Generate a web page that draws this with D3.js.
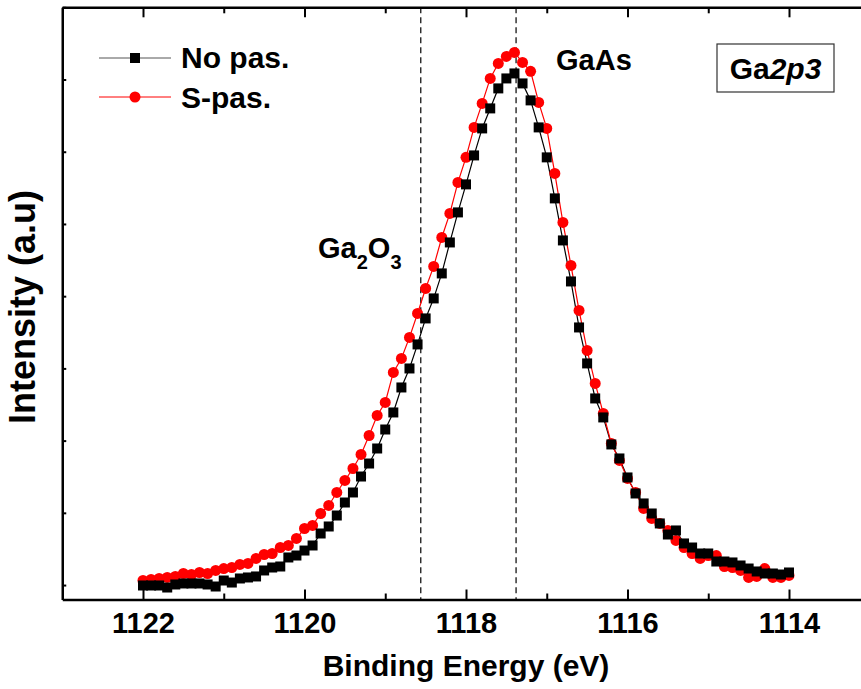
<!DOCTYPE html>
<html>
<head>
<meta charset="utf-8">
<script src="https://cdn.jsdelivr.net/npm/d3@7"></script>
<style>
  body { margin: 0; background: #fff; }
  svg { display: block; font-family: "Liberation Sans", Arial, sans-serif; }
  .axis path, .axis line { stroke: #000; }
</style>
</head>
<body>
<script>
// binding energies, 1122.0 -> 1114.0 eV in 0.1 eV steps
var energy = d3.range(0, 81).map(i => +(1122 - i * 0.1).toFixed(1));

// Intensity (a.u.)
var noPas = [
  994, 994, 994, 966, 1008, 1022, 1022, 1022, 1008, 980,
  1063, 1035, 1091, 1105, 1119, 1202, 1243, 1257, 1382, 1409,
  1478, 1548, 1714, 1811, 1963, 2143, 2282, 2503, 2683, 2891,
  3154, 3390, 3736, 3999, 4332, 4692, 4969, 5315, 5744, 6160,
  6548, 6949, 7323, 7600, 7877, 8015, 8084, 7946, 7711, 7337,
  6922, 6354, 5772, 5204, 4567, 4069, 3584, 3321, 2947, 2753,
  2490, 2268, 2130, 1991, 1853, 1700, 1756, 1576, 1520, 1437,
  1437, 1326, 1326, 1313, 1271, 1229, 1188, 1160, 1160, 1146,
  1174
];
var sPas = [
  1063, 1077, 1091, 1105, 1119, 1160, 1146, 1174, 1160, 1202,
  1229, 1243, 1285, 1299, 1368, 1423, 1437, 1520, 1548, 1645,
  1783, 1825, 1991, 2102, 2282, 2448, 2614, 2808, 3071, 3348,
  3528, 3944, 4138, 4429, 4761, 5107, 5412, 5813, 6146, 6575,
  6922, 7337, 7669, 8015, 8223, 8320, 8375, 8237, 8113, 7683,
  7323, 6700, 6021, 5426, 4803, 4249, 3792, 3377, 2961, 2725,
  2476, 2282, 2061, 1922, 1853, 1756, 1618, 1520, 1437, 1368,
  1409, 1409, 1257, 1243, 1202, 1105, 1119, 1229, 1105, 1105,
  1133
];

var majorTicks = [1122, 1120, 1118, 1116, 1114];
var minorTicks = [1121, 1119, 1117, 1115];
var yTicks = [1000, 2000, 3000, 4000, 5000, 6000, 7000, 8000, 9000];
var peakLines = [1118.56, 1117.38];

var W = 861, H = 689;
var plotL = 62.25, plotR = 869.75, plotT = 7.3, plotB = 599.5;

var x = d3.scaleLinear().domain([1123, 1113]).range([plotL, plotR]);
var y = d3.scaleLinear().domain([800, 9000]).range([plotB, plotT]);

var svg = d3.select("body").append("svg")
    .attr("width", W)
    .attr("height", H);

// dashed peak positions
svg.selectAll(".peak")
    .data(peakLines)
    .enter().append("line")
    .attr("class", "peak")
    .attr("x1", d => x(d)).attr("x2", d => x(d))
    .attr("y1", plotT).attr("y2", plotB)
    .attr("stroke", "#000")
    .attr("stroke-width", 1.2)
    .attr("stroke-dasharray", "6,4");

// axes (ticks inward)
var gx = svg.append("g")
    .attr("class", "axis")
    .attr("transform", "translate(0," + plotB + ")")
    .call(d3.axisBottom(x).tickValues(majorTicks).tickSizeInner(-10).tickSizeOuter(0)
        .tickPadding(13).tickFormat(d3.format("d")));
gx.selectAll("text")
    .style("font-size", "29px").style("font-weight", "bold").attr("fill", "#000");
svg.append("g")
    .attr("class", "axis")
    .attr("transform", "translate(0," + plotB + ")")
    .call(d3.axisBottom(x).tickValues(minorTicks).tickSizeInner(-6).tickSizeOuter(0).tickFormat(""))
    .select(".domain").remove();

svg.append("g")
    .attr("class", "axis")
    .attr("transform", "translate(0," + plotT + ")")
    .call(d3.axisTop(x).tickValues(majorTicks).tickSizeInner(-10).tickSizeOuter(0).tickFormat(""));
svg.append("g")
    .attr("class", "axis")
    .attr("transform", "translate(0," + plotT + ")")
    .call(d3.axisTop(x).tickValues(minorTicks).tickSizeInner(-6).tickSizeOuter(0).tickFormat(""))
    .select(".domain").remove();

svg.append("g")
    .attr("class", "axis")
    .attr("transform", "translate(" + plotL + ",0)")
    .call(d3.axisLeft(y).tickValues(yTicks).tickSizeInner(-4).tickSizeOuter(0).tickFormat(""));

svg.selectAll(".axis .domain").attr("stroke-width", 2.5);
svg.selectAll(".axis .tick line").attr("stroke-width", 2);

// series
var line = d3.line()
    .x((d, i) => x(energy[i]))
    .y(d => y(d));

svg.append("path")
    .datum(noPas)
    .attr("fill", "none")
    .attr("stroke", "#000")
    .attr("stroke-width", 1.2)
    .attr("d", line);

svg.append("path")
    .datum(sPas)
    .attr("fill", "none")
    .attr("stroke", "#ff0000")
    .attr("stroke-width", 1.2)
    .attr("d", line);

svg.append("g").selectAll("circle")
    .data(sPas)
    .enter().append("circle")
    .attr("cx", (d, i) => x(energy[i]))
    .attr("cy", d => y(d))
    .attr("r", 5.5)
    .attr("fill", "#ff0000");

svg.append("g").selectAll("rect")
    .data(noPas)
    .enter().append("rect")
    .attr("x", (d, i) => x(energy[i]) - 5)
    .attr("y", d => y(d) - 5)
    .attr("width", 10)
    .attr("height", 10)
    .attr("fill", "#000");

// legend
var legend = svg.append("g");
legend.append("line").attr("x1", 99).attr("x2", 171).attr("y1", 58).attr("y2", 58)
    .attr("stroke", "#555").attr("stroke-width", 1);
legend.append("rect").attr("x", 130).attr("y", 53).attr("width", 10).attr("height", 10)
    .attr("fill", "#000");
legend.append("line").attr("x1", 99).attr("x2", 171).attr("y1", 97).attr("y2", 97)
    .attr("stroke", "#ff0000").attr("stroke-width", 1);
legend.append("circle").attr("cx", 135).attr("cy", 97).attr("r", 5.5).attr("fill", "#ff0000");
legend.append("text").attr("x", 181).attr("y", 68).text("No pas.")
    .style("font-size", "30px").style("font-weight", "bold");
legend.append("text").attr("x", 181).attr("y", 108).text("S-pas.")
    .style("font-size", "30px").style("font-weight", "bold");

// annotations
svg.append("text").attr("x", 556).attr("y", 70).text("GaAs")
    .style("font-size", "29px").style("font-weight", "bold");

var ga = svg.append("text").attr("x", 318).attr("y", 258)
    .style("font-size", "29px").style("font-weight", "bold");
ga.append("tspan").text("Ga");
ga.append("tspan").attr("dy", 11).style("font-size", "20px").text("2");
ga.append("tspan").attr("dy", -11).text("O");
ga.append("tspan").attr("dy", 11).style("font-size", "20px").text("3");

svg.append("rect")
    .attr("x", 717).attr("y", 44).attr("width", 117).attr("height", 48)
    .attr("fill", "#fff").attr("stroke", "#333").attr("stroke-width", 1.2);
var lbl = svg.append("text").attr("x", 775.5).attr("y", 79).attr("text-anchor", "middle")
    .style("font-size", "30px").style("font-weight", "bold");
lbl.append("tspan").text("Ga");
lbl.append("tspan").style("font-style", "italic").text("2p3");

// axis titles
svg.append("text")
    .attr("x", (plotL + plotR) / 2).attr("y", 676)
    .attr("text-anchor", "middle")
    .style("font-size", "30px").style("font-weight", "bold")
    .text("Binding Energy (eV)");

svg.append("text")
    .attr("transform", "translate(35,307) rotate(-90)")
    .attr("text-anchor", "middle")
    .style("font-size", "36px").style("font-weight", "bold")
    .text("Intensity (a.u)");
</script>
</body>
</html>
